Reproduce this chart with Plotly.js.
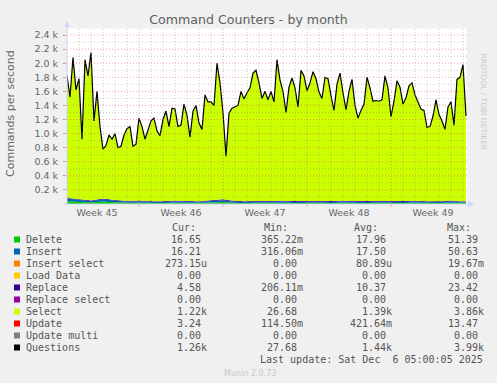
<!DOCTYPE html>
<html><head><meta charset="utf-8">
<script src="https://cdn.plot.ly/plotly-3.0.1.min.js"></script>
<style>html,body{margin:0;padding:0;background:#F0F0F0;}#chart{width:497px;height:383px;}</style>
</head><body><div id="chart"></div>
<script>
// ---------------- DATA ----------------
const seriesStart = '2025-11-03T00:00:00Z';   // first sample
const seriesStepHours = 6;                      // sample spacing
const dailyStart = '2025-11-03T00:00:00Z';     // daily series start

// Questions (commands/s), 6-hour samples
const questionsVals = [
1820,1520,2080,1620,1780,920,2050,1820,2150,1180,
1600,1100,780,830,980,920,1000,800,820,980,
1070,1100,820,850,1220,1100,920,1060,1180,1220,
1040,970,1200,1320,1100,1360,1350,1100,1120,1420,
1260,950,1320,1400,1150,1060,1550,1450,1450,1400,
2000,1720,1300,680,1290,1360,1380,1400,1600,1490,
1580,1650,1860,1900,1720,1500,1600,1480,1600,1450,
2050,1760,1600,1300,1660,1790,1650,1380,1900,1820,
1610,1720,1880,1780,1590,1500,1800,1780,1540,1330,
1700,1860,1580,1340,1600,1770,1400,1220,1330,1420,
1800,1650,1460,1470,1460,1480,1820,1650,1240,1460,
1750,1660,1420,1510,1680,1720,1550,1460,1350,1330,
1090,1100,1250,1480,1270,1180,1060,1380,1450,1120,
1770,1800,1980,1250];

// Select (commands/s), 6-hour samples
const selectVals = [
1735,1435,1995,1535,1695,835,1965,1735,2065,1095,
1515,1015,725,775,925,865,945,745,765,925,
1015,1045,765,795,1165,1045,865,1005,1125,1175,
995,925,1155,1275,1055,1315,1305,1055,1075,1375,
1215,905,1275,1355,1105,1015,1505,1405,1405,1355,
1955,1675,1255,635,1245,1315,1335,1355,1555,1445,
1535,1605,1815,1855,1675,1455,1555,1435,1555,1405,
2005,1715,1555,1255,1615,1745,1605,1335,1855,1775,
1565,1675,1835,1735,1545,1455,1755,1735,1495,1285,
1655,1815,1535,1295,1555,1725,1355,1175,1285,1375,
1755,1605,1415,1425,1415,1435,1775,1605,1195,1415,
1705,1615,1375,1465,1635,1675,1505,1415,1305,1285,
1045,1055,1205,1435,1225,1135,1015,1335,1405,1075,
1725,1755,1935,1205];

// small series, daily samples
const deleteVals  = [40,30,22,35,25,18,20,16,15,18,17,16,22,28,16,15,17,16,18,15,16,17,15,18,16,15,17,16,15,18,16,14,18,17];
const insertVals  = [35,28,20,30,22,17,19,16,15,17,16,15,20,25,16,15,16,16,17,15,15,16,15,17,16,15,16,15,15,17,15,14,17,16];
const replaceVals = [12,10,9,11,10,9,10,9,10,11,10,9,12,14,11,10,11,12,10,11,12,10,11,12,10,11,10,12,11,10,9,10,12,5];
const updateVals  = [0.5,0.4,0.4,0.5,0.4,0.4,0.4,0.4,0.4,0.5,0.4,0.4,0.5,0.5,0.4,0.4,0.4,0.4,0.4,0.4,0.4,0.4,0.4,0.4,0.4,0.4,0.4,0.4,0.4,0.4,0.4,0.4,0.4,0.4];

// axis labels
const weekTickDates = ['2025-11-05 12:00','2025-11-12 12:00','2025-11-19 12:00','2025-11-26 12:00','2025-12-03 12:00'];
const weekLabels = ['Week 45','Week 46','Week 47','Week 48','Week 49'];
const yTickVals = [200,400,600,800,1000,1200,1400,1600,1800,2000,2200,2400];
const yTickText = ['0.2 k','0.4 k','0.6 k','0.8 k','1.0 k','1.2 k','1.4 k','1.6 k','1.8 k','2.0 k','2.2 k','2.4 k'];

// legend table
const seriesNames  = ['Delete','Insert','Insert select','Load Data','Replace','Replace select','Select','Update','Update multi','Questions'];
const seriesColors = ['#00CC00','#0066B3','#FF8000','#FFCC00','#330099','#990099','#CCFF00','#FF0000','#808080','#000000'];
const curVals = ['16.65','16.21','273.15u','0.00','4.58','0.00','1.22k','3.24','0.00','1.26k'];
const minVals = ['365.22m','316.06m','0.00','0.00','206.11m','0.00','26.68','114.50m','0.00','27.68'];
const avgVals = ['17.96','17.50','80.89u','0.00','10.37','0.00','1.39k','421.64m','0.00','1.44k'];
const maxVals = ['51.39','50.63','19.67m','0.00','23.42','0.00','3.86k','13.47','0.00','3.99k'];
const lastUpdate = 'Last update: Sat Dec\u00a0\u00a06 05:00:05 2025';

// ---------------- BUILD ----------------
function fmt(ms){ return new Date(ms).toISOString().slice(0,16).replace('T',' '); }
const t0 = Date.parse(seriesStart), d0 = Date.parse(dailyStart);
const H = 3600e3;
const xs = questionsVals.map((_,i)=>fmt(t0 + i*seriesStepHours*H));
const xd = deleteVals.map((_,i)=>fmt(d0 + i*24*H));

const W = 497, HT = 383, L = 67, R = 467, T = 28, B = 204;
const px = v => (v - L) / (R - L);
const py = v => (B - v) / (B - T);

const traces = [
  {x:xd, y:deleteVals, name:'Delete', stackgroup:'s', stackgaps:'interpolate', mode:'none', fillcolor:'#00CC00'},
  {x:xd, y:insertVals, name:'Insert', stackgroup:'s', mode:'none', fillcolor:'#0066B3'},
  {x:xd, y:replaceVals, name:'Replace', stackgroup:'s', mode:'none', fillcolor:'#330099'},
  {x:xs, y:selectVals, name:'Select', stackgroup:'s', mode:'none', fillcolor:'#CCFF00'},
  {x:xd, y:updateVals, name:'Update', stackgroup:'s', mode:'none', fillcolor:'#FF0000'},
  {x:xs, y:questionsVals, name:'Questions', mode:'lines', line:{color:'#000000', width:1.2}}
];

const rangeStart = fmt(t0), rangeEnd = fmt(t0 + 800*H);
const shapes = [];
const minorC = 'rgba(120,120,120,0.38)', majorC = 'rgba(224,80,80,0.5)';
// vertical grid: daily, weekly (Sunday) major
for (let k = 0; k <= 33; k++) {
  const ms = t0 + k*24*H;
  const isSun = new Date(ms).getUTCDay() === 0;
  shapes.push({type:'line', layer:'above', xref:'x', yref:'paper', x0:fmt(ms), x1:fmt(ms), y0:0, y1:1,
    line:{color: isSun ? majorC : minorC, width:1, dash:'1px,2px'}});
  if (isSun) shapes.push({type:'line', layer:'above', xref:'x', yref:'paper', x0:fmt(ms), x1:fmt(ms), y0:py(204), y1:py(207),
    line:{color:majorC, width:1}});
}
// horizontal grid
for (let v = 100; v <= 2500; v += 100) {
  shapes.push({type:'line', layer:'above', xref:'paper', yref:'y', x0:0, x1:1, y0:v, y1:v,
    line:{color: (v % 200 === 0) ? majorC : minorC, width:1, dash:'1px,2px'}});
}
// axes + arrows
const axC = '#CFD6F8';
shapes.push({type:'line', layer:'above', xref:'paper', yref:'paper', x0:px(64), x1:px(469), y0:py(204), y1:py(204), line:{color:axC, width:1}});
shapes.push({type:'line', layer:'above', xref:'paper', yref:'paper', x0:px(67), x1:px(67), y0:py(207), y1:py(25), line:{color:axC, width:1}});
shapes.push({type:'path', layer:'above', xref:'paper', yref:'paper',
  path:`M ${px(468)} ${py(201)} L ${px(474)} ${py(204)} L ${px(468)} ${py(207)} Z`, fillcolor:axC, line:{width:0}});
shapes.push({type:'path', layer:'above', xref:'paper', yref:'paper',
  path:`M ${px(64)} ${py(27)} L ${px(67)} ${py(21)} L ${px(70)} ${py(27)} Z`, fillcolor:axC, line:{width:0}});

// legend
const annotations = [];
const mono = {family:'DejaVu Sans Mono', size:10, color:'#555555'};
const rowY = i => 239.5 + i*12;
const addText = (text, x, y, anchor, font) => annotations.push({text, x:px(x), y:py(y), xref:'paper', yref:'paper',
  xanchor:anchor, yanchor:'middle', showarrow:false, font, borderpad:0, borderwidth:0});
const pad = s => /[a-z]$/i.test(s) ? s : s + '\u00a0';
addText('Cur:', 172, 227.5, 'left', mono);
addText('Min:', 264, 227.5, 'left', mono);
addText('Avg:', 354, 227.5, 'left', mono);
addText('Max:', 447, 227.5, 'left', mono);
seriesNames.forEach((n,i)=>{
  const y = rowY(i);
  shapes.push({type:'rect', layer:'above', xref:'paper', yref:'paper', x0:px(14), x1:px(20), y0:py(y-3), y1:py(y+3),
    fillcolor:seriesColors[i], line:{width:0}});
  addText(n, 25.5, y, 'left', mono);
  addText(pad(curVals[i]), 207, y, 'right', mono);
  addText(pad(minVals[i]), 303, y, 'right', mono);
  addText(pad(avgVals[i]), 391.5, y, 'right', mono);
  addText(pad(maxVals[i]), 484, y, 'right', mono);
});
addText(lastUpdate, 482.5, 359.5, 'right', mono);
addText('Munin 2.0.73', 250, 373, 'center', {family:'DejaVu Sans', size:8, color:'#c8c8c8'});
annotations.push({text:'RRDTOOL / TOBI OETIKER', x:px(487.5), y:py(53), xref:'paper', yref:'paper', textangle:90,
  showarrow:false, font:{family:'DejaVu Sans', size:7.5, color:'#c8c8c8'}, borderpad:0, borderwidth:0});
annotations.push({text:'Commands per second', x:px(10), y:py(114), xref:'paper', yref:'paper', textangle:-90,
  xanchor:'center', yanchor:'middle',
  showarrow:false, font:{family:'DejaVu Sans', size:11, color:'#666666'}, borderpad:0, borderwidth:0});

const layout = {
  width:W, height:HT,
  margin:{l:L, r:W-R, t:T, b:HT-B, pad:0},
  paper_bgcolor:'#F0F0F0', plot_bgcolor:'#FFFFFF',
  showlegend:false,
  title:{text:'Command Counters - by month', x:0.5, xref:'container', xanchor:'center',
         y:1-19.5/HT, yref:'container', yanchor:'middle',
         font:{family:'DejaVu Sans', size:12.6, color:'#606060'}},
  xaxis:{type:'date', range:[rangeStart, rangeEnd], tickmode:'array', tickvals:weekTickDates, ticktext:weekLabels,
         showgrid:false, zeroline:false, showline:false, ticks:'', ticklabelstandoff:1,
         tickfont:{family:'DejaVu Sans', size:9.5, color:'#666666'}},
  yaxis:{range:[0,2500], tickmode:'array', tickvals:yTickVals, ticktext:yTickText,
         showgrid:false, zeroline:false, showline:false, ticks:'outside', ticklen:3, tickcolor:'rgba(224,80,80,0.6)',
         ticklabelstandoff:3,
         tickfont:{family:'DejaVu Sans', size:9.5, color:'#666666'}},
  shapes, annotations, hovermode:false
};
Plotly.newPlot('chart', traces, layout, {displayModeBar:false, staticPlot:true});
</script></body></html>
